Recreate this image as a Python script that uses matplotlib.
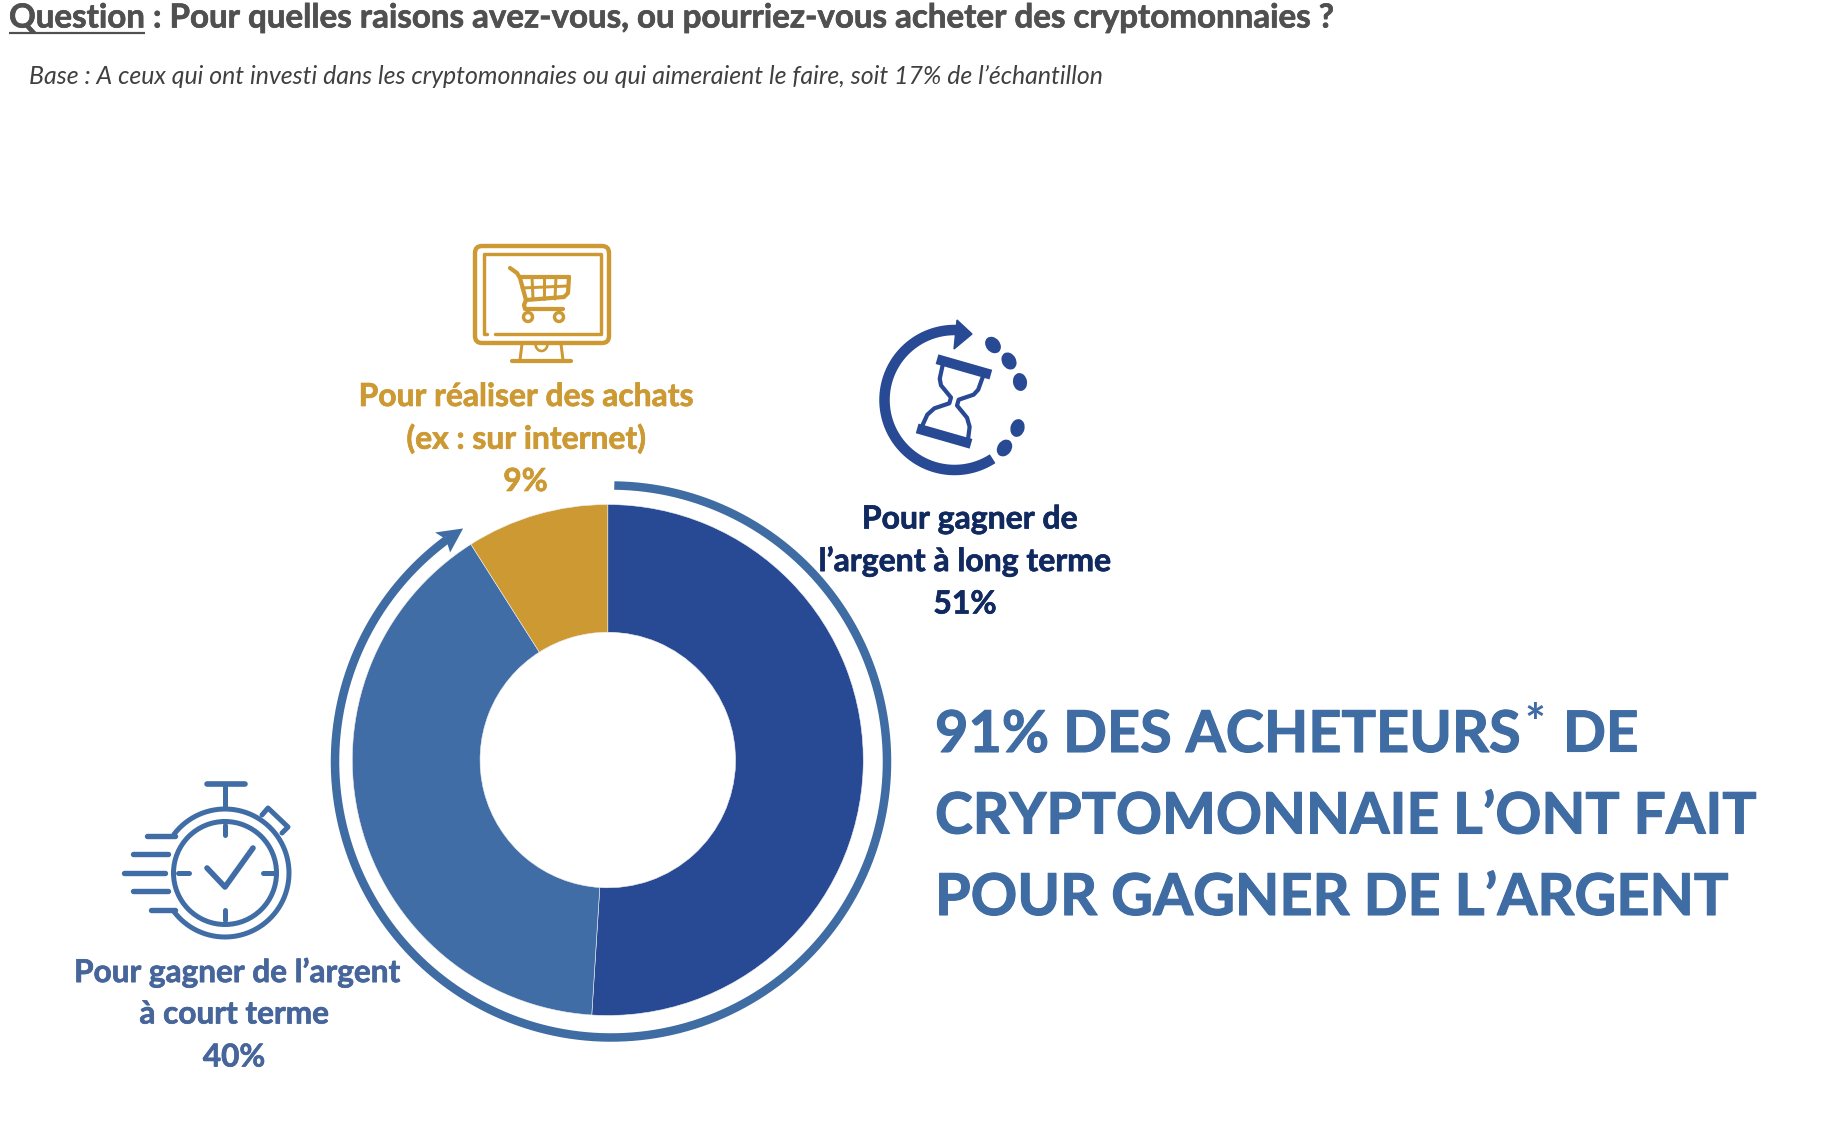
import numpy as np
import matplotlib
matplotlib.use("Agg")
import matplotlib.pyplot as plt
import matplotlib.patheffects as pe
from matplotlib.patches import Polygon, FancyBboxPatch, Circle, Ellipse
from matplotlib.lines import Line2D

# ---- data ----
categories = ["Pour gagner de\nl’argent à long terme", "Pour gagner de l’argent\nà court terme", "Pour réaliser des achats\n(ex : sur internet)"]
values = [51, 40, 9]
slice_colors = ["#284994", "#406DA5", "#CC9933"]
label_colors = ["#10295F", "#46659A", "#CC9933"]

title_head = "Question"
title_rest = " : Pour quelles raisons avez-vous, ou pourriez-vous acheter des cryptomonnaies ?"
subtitle = "Base : A ceux qui ont investi dans les cryptomonnaies ou qui aimeraient le faire, soit 17% de l’échantillon"
headline = ["91% DES ACHETEURS", "CRYPTOMONNAIE L’ONT FAIT", "POUR GAGNER DE L’ARGENT"]

W, H = 1822, 1130
plt.rcParams["font.family"] = ["Lato", "DejaVu Sans"]
fig = plt.figure(figsize=(W / 100, H / 100), dpi=100, facecolor="white")

# donut, placed by its pixel box
cx, cy, R = 607.8, 760, 255.5
ax = fig.add_axes([(cx - R) / W, (H - cy - R) / H, 2 * R / W, 2 * R / H])
ax.pie(values, colors=slice_colors, startangle=90, counterclock=False, radius=1,
       wedgeprops=dict(width=0.5, edgecolor="#eeeeee", linewidth=0.4))
ax.set_xlim(-1, 1); ax.set_ylim(-1, 1); ax.set_aspect("equal")

# overlay in pixel coordinates
ov = fig.add_axes([0, 0, 1, 1], facecolor="none")
ov.set_xlim(0, W); ov.set_ylim(H, 0); ov.axis("off")
renderer = fig.canvas.get_renderer()
PX = 0.72


def width_of(t):
    return t.get_window_extent(renderer).width


def embolden(t, amount, color):
    t.set_path_effects([pe.withStroke(linewidth=amount, foreground=color)])
    return t


def fit_text(x, y, s, target, color, weight="bold", style="normal", ha="center", va="center", start=20, stroke=0):
    t = ov.text(x, y, s, color=color, fontweight=weight, fontstyle=style, ha=ha, va=va, fontsize=start)
    t.set_fontsize(start * target / width_of(t))
    if stroke:
        embolden(t, stroke, color)
    return t


def ln(xs, ys, c, lw, cap="round", join="round"):
    ov.add_line(Line2D(xs, ys, color=c, lw=lw * PX, solid_capstyle=cap, solid_joinstyle=join))


# ---- title block ----
t1 = fit_text(9, 18, title_head + title_rest, 1325, "#505050", ha="left", stroke=0.5)
fs = t1.get_fontsize()
probe = ov.text(9, 18, title_head, fontsize=fs, fontweight="bold")
uw = width_of(probe); probe.remove()
ln([9, 9 + uw], [33, 33], "#505050", 2.2, cap="butt")
fit_text(29, 76, subtitle, 1073, "#404040", weight="normal", style="italic", ha="left")

# ---- slice labels ----
def label(xc, y0, idx, widest, shifts):
    lines = categories[idx].split("\n") + [f"{values[idx]}%"]
    probe = ov.text(0, 0, lines[0] if len(lines[0]) > len(lines[1]) else lines[1], fontsize=20, fontweight="bold")
    size = 20 * widest / width_of(probe); probe.remove()
    for s, off, dx in zip(lines, (0, 42, 85), shifts):
        t = ov.text(xc + dx, y0 + off, s, color=label_colors[idx], fontsize=size, fontweight="bold", ha="center", va="center")
        embolden(t, 0.5, label_colors[idx])

label(965, 519, 0, 292, (5, 0, 0))
label(234, 972, 1, 326, (3, 0, 0))
label(525.5, 396.5, 2, 335, (0, 0, 0))

# ---- headline ----
hc = "#3F6CA3"
xs0, ys = 935, [735.5, 817, 898.5]
a = fit_text(xs0, ys[0], headline[0], 586, hc, ha="left", stroke=0.8)
fit_text(xs0, ys[1], headline[1], 821, hc, ha="left", stroke=0.8)
fit_text(xs0, ys[2], headline[2], 793, hc, ha="left", stroke=0.8)
hs = a.get_fontsize()
x_end = xs0 + width_of(a)
ov.text(x_end + 4, ys[0] - 10, "*", color=hc, fontsize=hs * 0.85, fontweight="bold", va="center")
embolden(ov.text(1563, ys[0], "DE", color=hc, fontsize=hs * 0.98, fontweight="bold", va="center"), 0.8, hc)

# ---- ring: sweeps the two "gagner de l'argent" shares ----
rx, ry, rr = 611, 761.5, 276
ring_c = "#3F6CA3"
share = (values[0] + values[1]) / sum(values)
tip = 2 * np.pi * share
th = np.linspace(0.012, tip - 0.07, 400)
ln(rx + rr * np.sin(th), ry - rr * np.cos(th), ring_c, 8.5, cap="butt")
tipx, tipy = rx + rr * np.sin(tip), ry - rr * np.cos(tip)
ov.add_patch(Polygon([[tipx, tipy], [tipx - 28, tipy + 4], [tipx - 20, tipy + 9],
                      [tipx - 18, tipy + 8], [tipx - 13, tipy + 24]], closed=True, fc=ring_c, ec="none"))

# ---- stopwatch icon ----
c = "#406DA5"; lw = 5
sx, sy = 225, 873
outer = np.radians(np.linspace(-52.8, 232.8, 240))
ln(sx + 64 * np.sin(outer), sy - 64 * np.cos(outer), c, lw)
ov.add_patch(Circle((sx, sy), 51.5, fc="none", ec=c, lw=lw * PX))
for xa, xb, yy in [(147, 175, 836), (133, 168, 854), (124, 165, 873), (133, 168, 891), (151, 175, 910)]:
    ln([xa, xb], [yy, yy], c, lw + 0.4)
ln([225, 225], [784, 808], c, lw)
ln([207, 245], [784, 784], c, lw + 0.6)
ln([262, 268, 288, 282], [815, 808, 827, 833], c, lw)
ln([225, 225], [825, 835], c, lw); ln([225, 225], [910, 920], c, lw)
ln([178, 189], [873, 873], c, lw); ln([263, 274], [873, 873], c, lw)
ln([207, 225, 253], [868, 887, 848], c, lw + 0.6)

# ---- monitor + cart icon ----
g = "#CC9933"; lw = 4.2
ov.add_patch(FancyBboxPatch((475, 246), 134, 97, boxstyle="round,pad=0,rounding_size=7", fc="none", ec=g, lw=4.4 * PX))
ln([596, 484, 484, 487], [254, 254, 334, 334], g, 3.4)
ln([495, 601, 601, 596], [334, 334, 254, 254], g, 3.4)
ln([522, 520], [344, 360], g, 3); ln([561, 563], [344, 360], g, 3)
ln([512, 571], [361, 361], g, 4.2)
arc = np.radians(np.linspace(0, 180, 30))
ln(541.5 + 6 * np.cos(arc), 344 + 7 * np.sin(arc), g, 2.6)
ln([510, 517, 520, 526, 564, 568, 569], [268, 273, 278, 300, 297, 293, 277], g, lw)
ln([520, 569], [277, 277], g, lw)
ln([522, 568], [288, 286], g, 3)
for xa, xb in [(532, 533), (544, 544), (556, 555)]:
    ln([xa, xb], [277, 299], g, 3)
ln([526, 524, 525, 563], [300, 305, 309, 309], g, lw)
ov.add_patch(Circle((528, 317), 4.5, fc="white", ec=g, lw=3.4 * PX))
ov.add_patch(Circle((559, 317), 4.5, fc="white", ec=g, lw=3.4 * PX))

# ---- hourglass icon ----
b = "#284994"
hx, hy, hr = 954.5, 400, 70
th = np.radians(np.linspace(-3, 213, 200))  # anticlockwise from top via left
ln(hx - hr * np.sin(th), hy - hr * np.cos(th), b, 10.5, cap="butt")
ov.add_patch(Polygon([[972, 334], [957, 320], [954, 349]], closed=True, fc=b, ec=b, lw=1))
for (dx, dy, ang) in [(993, 345, -40), (1009, 361, -30), (1020, 382, -10), (1017.5, 428, 15), (1004.5, 448, 35)]:
    ov.add_patch(Ellipse((dx, dy), 14, 18, angle=ang, fc=b, ec="none"))
phi = np.radians(16)


def rot(px, py):
    px, py = np.asarray(px, float), np.asarray(py, float)
    return 954 + px * np.cos(phi) - py * np.sin(phi), 401.5 + px * np.sin(phi) + py * np.cos(phi)


for yy in (-36, 36):
    xr, yr = rot([-28, 28], [yy, yy])
    ln(xr, yr, b, 10, cap="butt")
for s in (-1, 1):
    xr, yr = rot(s * np.array([21, 20, 17, 4, 4, 17, 22, 24]), [-33, -18, -12, -3, 3, 12, 20, 33])
    ln(xr, yr, b, 4.2)

fig.savefig("out.png", dpi=100, facecolor="white")
